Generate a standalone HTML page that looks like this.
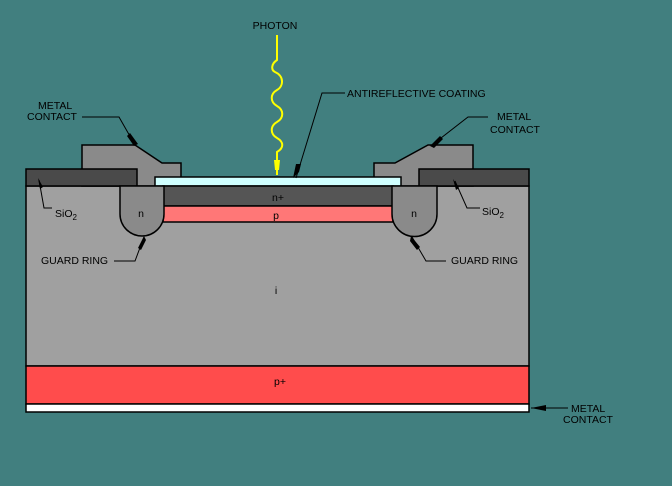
<!DOCTYPE html>
<html><head><style>body{margin:0;background:#417f7f}svg{display:block}text{font-family:"Liberation Sans",sans-serif;font-size:10.5px;fill:#000}</style></head><body>
<svg width="672" height="486" viewBox="0 0 672 486">
<rect width="672" height="486" fill="#417f7f"/>
<rect x="26" y="186" width="503" height="180" fill="#a0a0a0" stroke="#000" stroke-width="1.5"/>
<rect x="26" y="366" width="503" height="38" fill="#ff4c4c" stroke="#000" stroke-width="1.5"/>
<rect x="26" y="404" width="503" height="8" fill="#fff" stroke="#000" stroke-width="1.5"/>
<polygon points="82,145 135,145 162,163 181,163 181,186 82,186" fill="#8a8a8a" stroke="#000" stroke-width="1.5"/>
<polygon points="473,145 428,145 395,163 374,163 374,186 473,186" fill="#8a8a8a" stroke="#000" stroke-width="1.5"/>
<rect x="26" y="169" width="111" height="17" fill="#4a4a4a" stroke="#000" stroke-width="1.5"/>
<rect x="419" y="169" width="110" height="17" fill="#4a4a4a" stroke="#000" stroke-width="1.5"/>
<rect x="155" y="177" width="246" height="9" fill="#d0ffff" stroke="#000" stroke-width="1.5"/>
<rect x="163" y="186" width="230" height="20" fill="#555" stroke="#000" stroke-width="1.5"/>
<rect x="163" y="206" width="230" height="16" fill="#ff7777" stroke="#000" stroke-width="1.5"/>
<path d="M120,186 L120,214 A22,22 0 0 0 164,214 L164,186 Z" fill="#8a8a8a" stroke="#000" stroke-width="1.5"/>
<path d="M392,186 L392,214 A22.5,22.5 0 0 0 437,214 L437,186 Z" fill="#8a8a8a" stroke="#000" stroke-width="1.5"/>
<path d="M277,35 L277,60 C271,64 271,70 275,72 C284,76 284,86 277,90 C270,94 270,102 277,106 C284,110 284,118 277,122 C270,126 270,134 277,138 C284,142 284,148 277,152 L277,175" fill="none" stroke="#ffff00" stroke-width="2"/>
<polygon points="274,160 280,160 279,170 275,170" fill="#ffff00"/>
<text x="275" y="29" text-anchor="middle">PHOTON</text>
<text x="347" y="97">ANTIREFLECTIVE COATING</text>
<polyline points="345,93 322,93 296,178" fill="none" stroke="#000"/>
<polygon points="293,178 299,172 301,164 296,164" fill="#000"/>
<text x="38" y="109">METAL</text><text x="27" y="120">CONTACT</text>
<polyline points="82,117 119,117 135,145" fill="none" stroke="#000"/>
<polygon points="134,146 138,144 130,133 127,136" fill="#000"/>
<text x="497" y="120">METAL</text><text x="490" y="133">CONTACT</text>
<polyline points="488,117 468,117 432,145" fill="none" stroke="#000"/>
<polygon points="430,146 434,148 443,139 440,136" fill="#000"/>
<text x="55" y="217">SiO<tspan font-size="8" dy="3">2</tspan></text>
<polyline points="52,208 44,208 39,180" fill="none" stroke="#000"/>
<polygon points="38,178 43,187 40,189" fill="#000"/>
<text x="482" y="215">SiO<tspan font-size="8" dy="3">2</tspan></text>
<polyline points="480,208 467,208 455,181" fill="none" stroke="#000"/>
<polygon points="453,179 459,188 456,190" fill="#000"/>
<text x="41" y="264">GUARD RING</text>
<polyline points="114,261 135,261 144,237" fill="none" stroke="#000"/>
<polygon points="144,236 146,240 141,250 138,248" fill="#000"/>
<text x="451" y="264">GUARD RING</text>
<polyline points="446,261 426,261 412,237" fill="none" stroke="#000"/>
<polygon points="411,236 410,241 417,250 420,247" fill="#000"/>
<text x="571" y="412">METAL</text><text x="563" y="423">CONTACT</text>
<line x1="531" y1="408" x2="568" y2="408" stroke="#000"/>
<polygon points="531,408 546,405 546,411" fill="#000"/>
<text x="141" y="217" text-anchor="middle" font-size="12.5">n</text>
<text x="414" y="217" text-anchor="middle" font-size="12.5">n</text>
<text x="278" y="201" text-anchor="middle" font-size="12.5">n+</text>
<text x="276" y="219" text-anchor="middle" font-size="12.5">p</text>
<text x="276" y="294" text-anchor="middle" font-size="12.5">i</text>
<text x="280" y="385" text-anchor="middle" font-size="12.5">p+</text>
</svg>
</body></html>
